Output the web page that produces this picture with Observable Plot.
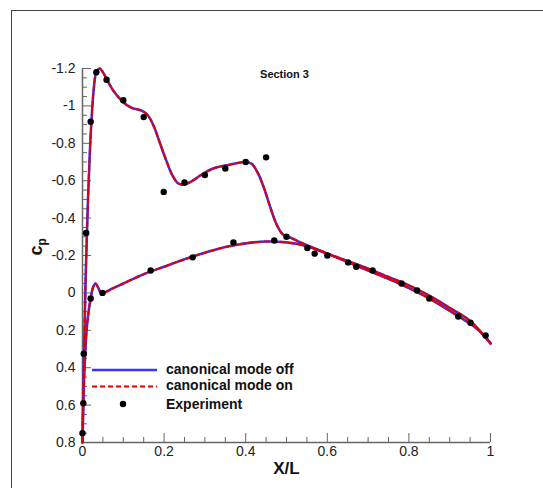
<!DOCTYPE html>
<html><head><meta charset="utf-8">
<script src="https://cdn.jsdelivr.net/npm/d3@7"></script>
<script src="https://cdn.jsdelivr.net/npm/@observablehq/plot@0.6"></script>
<style>
body{margin:0;background:#fff;}
#wrap{position:relative;width:543px;height:488px;overflow:hidden;}
#frame{position:absolute;left:11px;top:10px;right:-2px;bottom:-2px;border-top:1.5px solid #444;border-left:1.5px solid #444;pointer-events:none;}
</style></head><body><div id="wrap"><div id="frame"></div></div>
<script>
// Upper (suction) surface, computed Cp
const upperX  = [0, 0.002, 0.005, 0.008, 0.012, 0.017, 0.022, 0.028, 0.034, 0.042, 0.05, 0.06, 0.076, 0.1, 0.12, 0.145, 0.16, 0.175, 0.19, 0.205, 0.22, 0.235, 0.25, 0.27, 0.29, 0.32, 0.36, 0.4, 0.415, 0.43, 0.445, 0.46, 0.475, 0.49, 0.51, 0.55, 0.6, 0.65, 0.7, 0.77, 0.85, 0.925, 0.96, 0.985, 1.0];
const upperCp = [0.8, 0.5, 0.2, -0.1, -0.4, -0.7, -0.92, -1.1, -1.18, -1.2, -1.18, -1.14, -1.08, -1.02, -0.99, -0.975, -0.95, -0.89, -0.8, -0.71, -0.63, -0.585, -0.58, -0.6, -0.63, -0.665, -0.685, -0.7, -0.69, -0.64, -0.56, -0.46, -0.37, -0.315, -0.295, -0.255, -0.21, -0.165, -0.12, -0.056, 0.03, 0.13, 0.18, 0.23, 0.27];
// Lower (pressure) surface, computed Cp
const lowerX  = [0, 0.002, 0.005, 0.01, 0.015, 0.02, 0.026, 0.032, 0.038, 0.045, 0.052, 0.07, 0.1, 0.15, 0.2, 0.25, 0.3, 0.35, 0.4, 0.45, 0.5, 0.55, 0.6, 0.65, 0.7, 0.75, 0.8, 0.85, 0.9, 0.95, 1.0];
const lowerCp = [0.8, 0.6, 0.4, 0.2, 0.1, 0.03, -0.03, -0.05, -0.03, 0.0, 0.0, -0.02, -0.05, -0.1, -0.14, -0.18, -0.215, -0.245, -0.265, -0.275, -0.27, -0.25, -0.21, -0.17, -0.13, -0.085, -0.04, 0.015, 0.08, 0.15, 0.27];
// Experiment
const expX  = [0, 0.002, 0.003, 0.009, 0.02, 0.02, 0.034, 0.059, 0.1, 0.15, 0.199, 0.25, 0.30, 0.35, 0.40, 0.45, 0.50, 0.049, 0.167, 0.27, 0.37, 0.47, 0.551, 0.569, 0.60, 0.651, 0.671, 0.711, 0.782, 0.82, 0.85, 0.921, 0.951, 0.988];
const expCp = [0.75, 0.59, 0.325, -0.32, 0.03, -0.915, -1.18, -1.14, -1.03, -0.94, -0.54, -0.59, -0.63, -0.665, -0.70, -0.725, -0.30, 0.0, -0.12, -0.19, -0.27, -0.28, -0.24, -0.21, -0.20, -0.163, -0.14, -0.12, -0.05, -0.013, 0.03, 0.126, 0.16, 0.228];

const xMajor = [0, 0.2, 0.4, 0.6, 0.8, 1];
const xMinor = [0.05, 0.1, 0.15, 0.25, 0.3, 0.35, 0.45, 0.5, 0.55, 0.65, 0.7, 0.75, 0.85, 0.9, 0.95];
const yMajor = [-1.2, -1, -0.8, -0.6, -0.4, -0.2, 0, 0.2, 0.4, 0.6, 0.8];
const yMinor = [-1.15, -1.1, -1.05, -0.95, -0.9, -0.85, -0.75, -0.7, -0.65, -0.55, -0.5, -0.45, -0.35, -0.3, -0.25, -0.15, -0.1, -0.05, 0.05, 0.1, 0.15, 0.25, 0.3, 0.35, 0.45, 0.5, 0.55, 0.65, 0.7, 0.75];

const seriesNames = ["canonical mode off", "canonical mode on", "Experiment"];
const titleText = "Section 3";
const xLabel = "X/L";

const upper = upperX.map((x, i) => ({x, cp: upperCp[i]}));
const lower = lowerX.map((x, i) => ({x, cp: lowerCp[i]}));
const exp = expX.map((x, i) => ({x, cp: expCp[i]}));

const BLUE = "#3535ff", RED = "#e00000", AX = "#666";
const FONT = "Liberation Sans, Arial, sans-serif";
const fmt = d => String(d);

const plot = Plot.plot({
  width: 543, height: 488,
  marginLeft: 82, marginRight: 53, marginTop: 68, marginBottom: 46,
  style: {fontFamily: FONT, fontSize: "14px", color: "#222", background: "transparent", overflow: "visible"},
  x: {domain: [0, 1]},
  y: {domain: [0.8, -1.2]},
  marks: [
    Plot.axisX({ticks: xMinor, tickSize: -5, fill: "none", stroke: AX, label: null}),
    Plot.axisX({ticks: xMajor, tickSize: -9, fill: "none", stroke: AX, label: null}),
    Plot.axisX({ticks: xMajor, tickSize: 0, tickPadding: 4, tickFormat: fmt, label: null, fontSize: 14, fill: "#222"}),
    Plot.axisY({ticks: yMinor, tickSize: -5, fill: "none", stroke: AX, label: null}),
    Plot.axisY({ticks: yMajor, tickSize: -9, fill: "none", stroke: AX, label: null}),
    Plot.axisY({ticks: yMajor, tickSize: 0, tickPadding: 7, tickFormat: fmt, label: null, fontSize: 14, fill: "#222"}),
    Plot.ruleX([0], {stroke: AX, strokeWidth: 1.5}),
    Plot.ruleY([0.8], {stroke: AX, strokeWidth: 1.5}),
    Plot.line(upper, {x: "x", y: "cp", curve: "catmull-rom", stroke: BLUE, strokeWidth: 2.6}),
    Plot.line(lower, {x: "x", y: "cp", curve: "catmull-rom", stroke: BLUE, strokeWidth: 2.6}),
    Plot.line(upper, {x: "x", y: "cp", curve: "catmull-rom", stroke: RED, strokeWidth: 2, strokeDasharray: "5,3"}),
    Plot.line(lower, {x: "x", y: "cp", curve: "catmull-rom", stroke: RED, strokeWidth: 2, strokeDasharray: "5,3"}),
    Plot.dot(exp, {x: "x", y: "cp", r: 3.2, fill: "black"}),
    Plot.text([titleText], {frameAnchor: "top", dx: -2, dy: 9, lineAnchor: "bottom", fontSize: 11, fontWeight: "bold", fill: "#111"}),
    Plot.text([xLabel], {frameAnchor: "bottom", dy: 26, lineAnchor: "middle", fontSize: 17, fontWeight: "bold", fill: "#111"}),
    Plot.text(["c"], {frameAnchor: "left", dx: -46, rotate: -90, lineAnchor: "middle", fontSize: 18, fontWeight: "bold", fill: "#111"})
  ]
});

const svg = d3.select(plot);
// subscript p on the Cp label
svg.selectAll("text").filter(function(){ return this.textContent === "c"; })
  .append("tspan").attr("dy", "0.35em").attr("font-size", 12).text("p");

// legend
const lg = svg.append("g").attr("font-family", FONT).attr("font-weight", "bold").attr("font-size", 14).attr("fill", "#111").attr("text-anchor", "start");
lg.append("line").attr("x1", 92).attr("x2", 157).attr("y1", 370).attr("y2", 370).attr("stroke", BLUE).attr("stroke-width", 2.4);
lg.append("line").attr("x1", 92).attr("x2", 157).attr("y1", 386.5).attr("y2", 386.5).attr("stroke", RED).attr("stroke-width", 2).attr("stroke-dasharray", "5,3");
lg.append("circle").attr("cx", 123).attr("cy", 404).attr("r", 3.2).attr("fill", "black");
[369, 385.5, 404].forEach((yy, i) => {
  lg.append("text").attr("x", 166).attr("y", yy).attr("dy", "0.35em").attr("text-anchor", "start").text(seriesNames[i]);
});

document.getElementById("wrap").prepend(plot);
plot.style.position = "absolute"; plot.style.left = "0"; plot.style.top = "0";
</script>
</body></html>
